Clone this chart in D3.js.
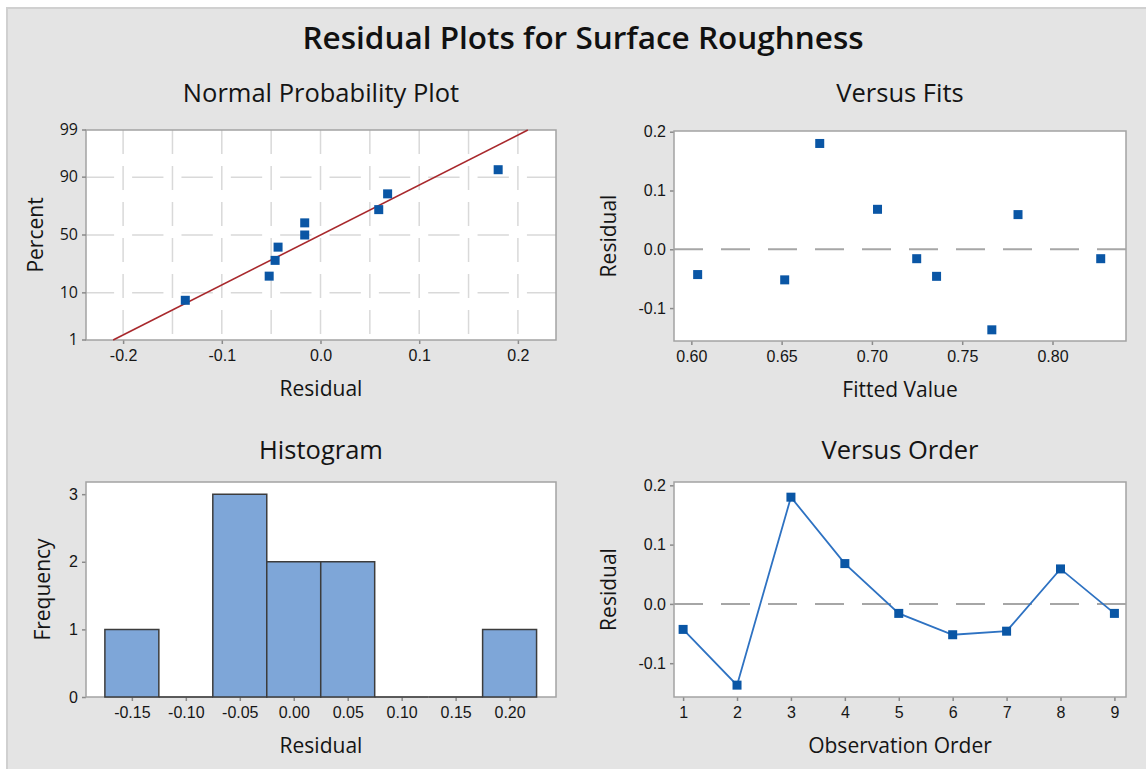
<!DOCTYPE html>
<html lang="en">
<head>
<meta charset="utf-8">
<title>Residual Plots for Surface Roughness</title>
<script src="https://d3js.org/d3.v7.min.js"></script>
<style>
  body { margin: 0; background: #fff; }
  svg { display: block; font-family: "Open Sans", "Noto Sans", sans-serif; }
  .tick text { font-size: 16px; fill: #161616; }
  .tick line { stroke: #8a8a8a; stroke-width: 1.5px; }
  .domain { display: none; }
  .plotbg { fill: #fff; }
  .frame { fill: none; stroke: #a3a3a3; stroke-width: 1.5px; }
  .grid { stroke: #d9d9d9; stroke-width: 1.5px; fill: none; }
  .ptitle { font-size: 25.5px; fill: #141414; text-anchor: middle; }
  .atitle { font-size: 21px; fill: #141414; text-anchor: middle; }
</style>
</head>
<body>
<div id="chart"></div>
<script>
var width = 1146, height = 769;

// observations in run order
var obsOrder = [1, 2, 3, 4, 5, 6, 7, 8, 9];
var residuals = [-0.043, -0.137, 0.180, 0.068, -0.016, -0.052, -0.046, 0.059, -0.016];
var fittedValues = [0.6035, 0.7664, 0.6711, 0.7031, 0.7248, 0.6517, 0.7358, 0.7809, 0.8267];

// normal probability plot
var probPercents = [7.4, 18.1, 28.7, 39.4, 50, 60.6, 71.3, 81.9, 92.6];
var fitMean = 0.0, fitSd = 0.0903;
var percentTicks = [1, 10, 50, 90, 99];
var probGridY = [10, 50, 90];
var probGridX = [-0.2, -0.15, -0.1, -0.05, 0, 0.05, 0.1, 0.15, 0.2];
var probXTicks = [-0.2, -0.1, 0, 0.1, 0.2];

// histogram
var binMids = [-0.15, -0.10, -0.05, 0.00, 0.05, 0.10, 0.15, 0.20];
var binCounts = [1, 0, 3, 2, 2, 0, 0, 1];
var binWidth = 0.05;
var freqTicks = [0, 1, 2, 3];

var fitTicks = [0.60, 0.65, 0.70, 0.75, 0.80];
var residTicks = [-0.1, 0.0, 0.1, 0.2];

var markColor = "#0a56a5";

// inverse normal cdf (Acklam)
function probit(p) {
  var a = [-3.969683028665376e+01, 2.209460984245205e+02, -2.759285104469687e+02, 1.383577518672690e+02, -3.066479806614716e+01, 2.506628277459239e+00];
  var b = [-5.447609879822406e+01, 1.615858368580409e+02, -1.556989798598866e+02, 6.680131188771972e+01, -1.328068155288572e+01];
  var c = [-7.784894002430293e-03, -3.223964580411365e-01, -2.400758277161838e+00, -2.549671348605219e+00, 4.374664141464968e+00, 2.938163982698783e+00];
  var d = [7.784695709041462e-03, 3.224671290700398e-01, 2.445134137142996e+00, 3.754408661907416e+00];
  var pl = 0.02425, q, r;
  if (p < pl) {
    q = Math.sqrt(-2 * Math.log(p));
    return (((((c[0]*q+c[1])*q+c[2])*q+c[3])*q+c[4])*q+c[5]) / ((((d[0]*q+d[1])*q+d[2])*q+d[3])*q+1);
  }
  if (p > 1 - pl) {
    q = Math.sqrt(-2 * Math.log(1 - p));
    return -(((((c[0]*q+c[1])*q+c[2])*q+c[3])*q+c[4])*q+c[5]) / ((((d[0]*q+d[1])*q+d[2])*q+d[3])*q+1);
  }
  q = p - 0.5; r = q * q;
  return (((((a[0]*r+a[1])*r+a[2])*r+a[3])*r+a[4])*r+a[5])*q / (((((b[0]*r+b[1])*r+b[2])*r+b[3])*r+b[4])*r+1);
}

var svg = d3.select("#chart").append("svg")
  .attr("width", width)
  .attr("height", height);

svg.append("rect").attr("width", width).attr("height", height).attr("fill", "#fff");
svg.append("rect").attr("x", 6).attr("y", 7).attr("width", width - 6).attr("height", height - 7)
  .attr("fill", "#e4e4e4");
svg.append("path").attr("d", `M7,${height} V8 H${width}`)
  .attr("fill", "none").attr("stroke", "#d0d0d0").attr("stroke-width", 2);

svg.append("text")
  .attr("x", 583).attr("y", 49)
  .attr("text-anchor", "middle")
  .style("font-size", "31.5px").style("font-weight", 600).style("fill", "#111")
  .text("Residual Plots for Surface Roughness");

// shared panel scaffolding
function panel(box, o) {
  var g = svg.append("g");
  g.append("rect").attr("class", "plotbg")
    .attr("x", box.x0).attr("y", box.y0)
    .attr("width", box.x1 - box.x0).attr("height", box.y1 - box.y0);
  g.grid = g.append("g");
  g.append("g")
    .attr("transform", `translate(0,${box.y1})`)
    .call(d3.axisBottom(o.x).tickValues(o.xTicks).tickFormat(o.xFmt).tickSize(4).tickPadding(6));
  g.append("g")
    .attr("transform", `translate(${box.x0},0)`)
    .call(d3.axisLeft(o.y).tickValues(o.yTicks).tickFormat(o.yFmt).tickSize(4).tickPadding(4));
  g.append("rect").attr("class", "frame")
    .attr("x", box.x0).attr("y", box.y0)
    .attr("width", box.x1 - box.x0).attr("height", box.y1 - box.y0);
  g.append("text").attr("class", "ptitle")
    .attr("x", (box.x0 + box.x1) / 2).attr("y", o.titleY).text(o.title);
  g.append("text").attr("class", "atitle")
    .attr("x", (box.x0 + box.x1) / 2).attr("y", box.y1 + 56).text(o.xTitle);
  g.append("text").attr("class", "atitle")
    .attr("transform", `translate(${o.yTitleX},${(box.y0 + box.y1) / 2}) rotate(-90)`)
    .text(o.yTitle);
  g.marks = g.append("g");
  return g;
}

function squares(g, pts, x, y) {
  g.selectAll("rect.mk").data(pts).enter().append("rect")
    .attr("class", "mk")
    .attr("x", d => x(d[0]) - 4.5).attr("y", d => y(d[1]) - 4.5)
    .attr("width", 9).attr("height", 9)
    .attr("fill", markColor);
}

// ---- Normal probability plot
var b1 = {x0: 86, x1: 556, y0: 130, y1: 340};
var x1 = d3.scaleLinear().domain([-0.2376, 0.2386]).range([b1.x0, b1.x1]);
var y1 = d3.scaleLinear().domain([probit(0.01), probit(0.99)]).range([b1.y1, b1.y0]);
var yPct = p => y1(probit(p / 100));
var p1 = panel(b1, {
  x: x1, xTicks: probXTicks, xFmt: d => d.toFixed(1),
  y: y1, yTicks: [], yFmt: null,
  title: "Normal Probability Plot", titleY: 102, xTitle: "Residual", yTitle: "Percent", yTitleX: 43
});
// percent axis on the probability scale
var pctAxis = p1.append("g").attr("transform", `translate(${b1.x0},0)`);
pctAxis.selectAll("g").data(percentTicks).enter().append("g")
  .attr("class", "tick")
  .attr("transform", d => `translate(0,${yPct(d)})`)
  .each(function(d) {
    var t = d3.select(this);
    t.append("line").attr("x2", -4);
    t.append("text").attr("x", -8).attr("dy", "0.32em").attr("text-anchor", "end").text(d);
  });
// grid
var gStep = x1(0.05) - x1(0), gGap = 18, gDash = gStep - gGap;
var gOff = gDash + gGap / 2 - (x1(probGridX[0]) - b1.x0);
p1.grid.selectAll("line.h").data(probGridY).enter().append("line")
  .attr("class", "grid h")
  .attr("x1", b1.x0).attr("x2", b1.x1)
  .attr("y1", d => yPct(d)).attr("y2", d => yPct(d))
  .attr("stroke-dasharray", `${gDash},${gGap}`)
  .attr("stroke-dashoffset", ((gOff % gStep) + gStep) % gStep);
p1.grid.selectAll("line.v").data(probGridX).enter().append("line")
  .attr("class", "grid v")
  .attr("x1", d => x1(d)).attr("x2", d => x1(d))
  .attr("y1", b1.y0).attr("y2", b1.y1)
  .attr("stroke-dasharray", "24,12");
// fitted line
var pLine = [1, 99];
p1.marks.append("path")
  .datum(pLine)
  .attr("d", d3.line().x(p => x1(fitMean + fitSd * probit(p / 100))).y(p => yPct(p)))
  .attr("fill", "none").attr("stroke", "#a8282c").attr("stroke-width", 1.6);
var sortedRes = residuals.slice().sort(d3.ascending);
squares(p1.marks, sortedRes.map((r, i) => [r, probPercents[i]]), x1, yPct);

// ---- Versus fits
var b2 = {x0: 674, x1: 1126, y0: 131, y1: 341};
var x2 = d3.scaleLinear().domain([0.5904, 0.8407]).range([b2.x0, b2.x1]);
var y2 = d3.scaleLinear().domain([-0.156, 0.2012]).range([b2.y1, b2.y0]);
var p2 = panel(b2, {
  x: x2, xTicks: fitTicks, xFmt: d => d.toFixed(2),
  y: y2, yTicks: residTicks, yFmt: d => d.toFixed(1),
  title: "Versus Fits", titleY: 102, xTitle: "Fitted Value", yTitle: "Residual", yTitleX: 616
});
p2.grid.append("line")
  .attr("x1", b2.x0).attr("x2", b2.x1).attr("y1", y2(0)).attr("y2", y2(0))
  .attr("stroke", "#a6a6a6").attr("stroke-width", 2).attr("stroke-dasharray", "29,18");
squares(p2.marks, fittedValues.map((f, i) => [f, residuals[i]]), x2, y2);

// ---- Histogram
var b3 = {x0: 86, x1: 556, y0: 482, y1: 697};
var x3 = d3.scaleLinear().domain([-0.1925, 0.243]).range([b3.x0, b3.x1]);
var y3 = d3.scaleLinear().domain([0, 3.18]).range([b3.y1, b3.y0]);
var p3 = panel(b3, {
  x: x3, xTicks: binMids, xFmt: d => d.toFixed(2),
  y: y3, yTicks: freqTicks, yFmt: d3.format("d"),
  title: "Histogram", titleY: 459, xTitle: "Residual", yTitle: "Frequency", yTitleX: 50
});
p3.marks.selectAll("path").data(binMids).enter().append("path")
  .attr("d", (m, i) => {
    var xa = x3(m - binWidth / 2), xb = x3(m + binWidth / 2);
    return `M${xa},${y3(0)} V${y3(binCounts[i])} H${xb} V${y3(0)} Z`;
  })
  .attr("fill", "#7ea6d8").attr("stroke", "#3c3c3c").attr("stroke-width", 1.5);

// ---- Versus order
var b4 = {x0: 674, x1: 1126, y0: 482, y1: 697};
var x4 = d3.scaleLinear().domain([0.831, 9.215]).range([b4.x0, b4.x1]);
var y4 = d3.scaleLinear().domain([-0.157, 0.2056]).range([b4.y1, b4.y0]);
var p4 = panel(b4, {
  x: x4, xTicks: obsOrder, xFmt: d3.format("d"),
  y: y4, yTicks: residTicks, yFmt: d => d.toFixed(1),
  title: "Versus Order", titleY: 459, xTitle: "Observation Order", yTitle: "Residual", yTitleX: 616
});
p4.grid.append("line")
  .attr("x1", b4.x0).attr("x2", b4.x1).attr("y1", y4(0)).attr("y2", y4(0))
  .attr("stroke", "#a6a6a6").attr("stroke-width", 2).attr("stroke-dasharray", "29,18");
p4.marks.append("path")
  .datum(obsOrder.map((o, i) => [o, residuals[i]]))
  .attr("d", d3.line().x(d => x4(d[0])).y(d => y4(d[1])))
  .attr("fill", "none").attr("stroke", "#2e72c2").attr("stroke-width", 1.8);
squares(p4.marks, obsOrder.map((o, i) => [o, residuals[i]]), x4, y4);
</script>
</body>
</html>
